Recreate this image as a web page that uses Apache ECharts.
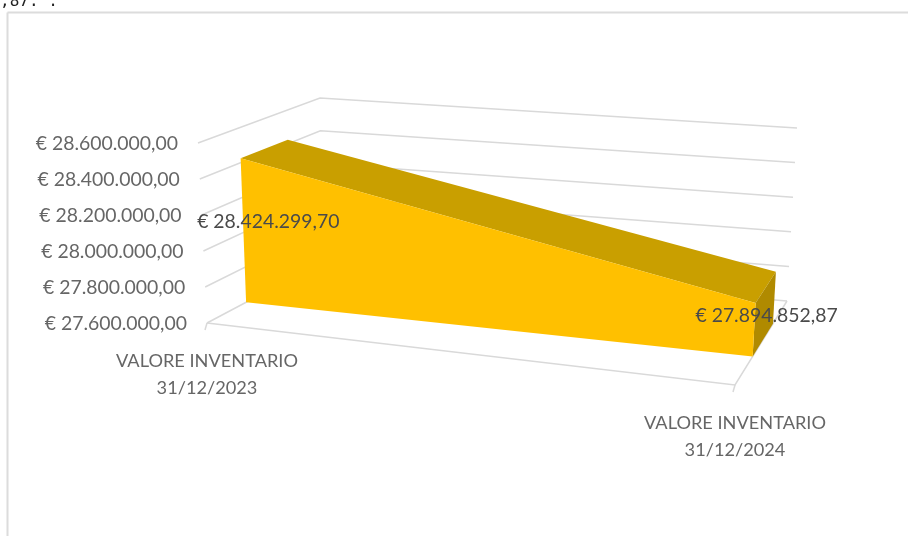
<!DOCTYPE html>
<html>
<head>
<meta charset="utf-8">
<style>
  html, body { margin: 0; padding: 0; background: #fff; }
  #main { width: 908px; height: 536px; }
</style>
<script src="https://cdn.jsdelivr.net/npm/echarts@6/dist/echarts.min.js"></script>
</head>
<body>
<div id="main"></div>
<script>
var categories = ['VALORE INVENTARIO\n31/12/2023', 'VALORE INVENTARIO\n31/12/2024'];
var inventoryValues = [28424299.70, 27894852.87];
var yTicks = [27600000, 27800000, 28000000, 28200000, 28400000, 28600000];
var yMin = 27600000;
var yMax = 28600000;
var fontName = 'Lato';

// screen corners of the 3d box, named u(x) v(y) d(depth)
var box = {
    '000': [207, 323], '100': [735, 385], '010': [198, 143], '110': [745, 199],
    '001': [322, 262], '101': [787, 301], '011': [320, 98], '111': [797, 128]
};
var gridLeft = 207, gridRight = 173, gridTop = 143, gridBottom = 213;
var areaFront = 0.34, areaBack = 0.73;

function mix(a, b, t) {
    return [a[0] + (b[0] - a[0]) * t, a[1] + (b[1] - a[1]) * t];
}

function project(u, v, d) {
    var front = mix(mix(box['000'], box['100'], u), mix(box['010'], box['110'], u), v);
    var back = mix(mix(box['001'], box['101'], u), mix(box['011'], box['111'], u), v);
    return mix(front, back, d);
}

// axis position -> unit box position, so everything goes through the cartesian scales
function toBox(api, cat, value, d) {
    var p = api.coord([cat, value]);
    var u = (p[0] - gridLeft) / (908 - gridLeft - gridRight);
    var v = (536 - gridBottom - p[1]) / (536 - gridTop - gridBottom);
    return project(u, v, d);
}

function euro(v) {
    var parts = v.toFixed(2).split('.');
    return '€ ' + parts[0].replace(/\B(?=(\d{3})+$)/g, '.') + ',' + parts[1];
}

function line(pts, color, width) {
    return {
        type: 'polyline',
        shape: { points: pts },
        style: { stroke: color || '#d9d9d9', lineWidth: width || 1.5, fill: null }
    };
}

function poly(pts, color) {
    return { type: 'polygon', shape: { points: pts }, style: { fill: color } };
}

function text(str, x, y, align, color, size) {
    return {
        type: 'text',
        x: x,
        y: y,
        style: {
            text: str,
            fill: color || '#666666',
            font: (size || 19.4) + 'px ' + fontName,
            align: align,
            verticalAlign: 'middle',
            lineHeight: 27
        }
    };
}

function renderWalls(params, api) {
    var value = yTicks[params.dataIndex];
    var a = toBox(api, 0, value, 0);
    var b = toBox(api, 0, value, 1);
    var c = toBox(api, 1, value, 1);
    return {
        type: 'group',
        children: [
            line([a, b, c]),
            text(euro(value), a[0] - 20, a[1] + 1, 'right')
        ]
    };
}

function renderFloor(params, api) {
    var cat = params.dataIndex;
    var a = toBox(api, cat, yMin, 0);
    var kids = [
        line([[a[0], a[1]], [a[0] - 2, a[1] + 7]]),
        text(categories[cat], a[0], a[1] + 52, 'center', '#666666', 18.2)
    ];
    if (cat === 1) {
        kids.push(line([toBox(api, 0, yMin, 0), a, toBox(api, 1, yMin, 1)]));
    }
    return { type: 'group', children: kids };
}

function renderArea(params, api) {
    var f0 = toBox(api, 0, inventoryValues[0], areaFront);
    var f1 = toBox(api, 1, inventoryValues[1], areaFront);
    var b0 = toBox(api, 0, inventoryValues[0], areaBack);
    var b1 = toBox(api, 1, inventoryValues[1], areaBack);
    var fb0 = toBox(api, 0, yMin, areaFront);
    var fb1 = toBox(api, 1, yMin, areaFront);
    var bb1 = toBox(api, 1, yMin, areaBack);
    return {
        type: 'group',
        children: [
            poly([f0, b0, b1, f1], '#c99f00'),
            poly([f1, b1, bb1, fb1], '#b08a00'),
            poly([f0, f1, fb1, fb0], '#ffc000')
        ]
    };
}

function renderLabels(params, api) {
    var cat = params.dataIndex;
    var value = inventoryValues[cat];
    var p = toBox(api, cat, yMin + (value - yMin) / 2, 0.53);
    return text(euro(value), p[0] + 2.5, p[1] + 1.5, 'center', '#4a4a4a');
}

var myChart = echarts.init(document.getElementById('main'));
var option = {
    backgroundColor: '#ffffff',
    animation: false,
    graphic: [
        { type: 'line', shape: { x1: 7.5, y1: 12.5, x2: 908, y2: 12.5 }, style: { stroke: '#dcdcdc', lineWidth: 2 } },
        { type: 'line', shape: { x1: 7.5, y1: 12.5, x2: 7.5, y2: 536 }, style: { stroke: '#dcdcdc', lineWidth: 2 } },
        { type: 'text', x: 0, y: -6, style: { text: ',87: .', fill: '#222222', font: '16px "DejaVu Sans Mono"' } }
    ],
    grid: { left: gridLeft, right: gridRight, top: gridTop, bottom: gridBottom },
    xAxis: { type: 'category', data: categories, boundaryGap: false, show: false },
    yAxis: { type: 'value', min: yMin, max: yMax, interval: 200000, show: false },
    series: [
        { name: 'walls', type: 'custom', coordinateSystem: 'cartesian2d', renderItem: renderWalls, data: yTicks.map(function (v) { return [0, v]; }), clip: false, silent: true },
        { name: 'floor', type: 'custom', coordinateSystem: 'cartesian2d', renderItem: renderFloor, data: categories.map(function (c, i) { return [i, yMin]; }), clip: false, silent: true },
        { name: 'area', type: 'custom', coordinateSystem: 'cartesian2d', renderItem: renderArea, data: [[0, inventoryValues[0]]], clip: false },
        { name: 'labels', type: 'custom', coordinateSystem: 'cartesian2d', renderItem: renderLabels, data: inventoryValues.map(function (v, i) { return [i, v]; }), clip: false, silent: true }
    ]
};
myChart.setOption(option);
</script>
</body>
</html>
